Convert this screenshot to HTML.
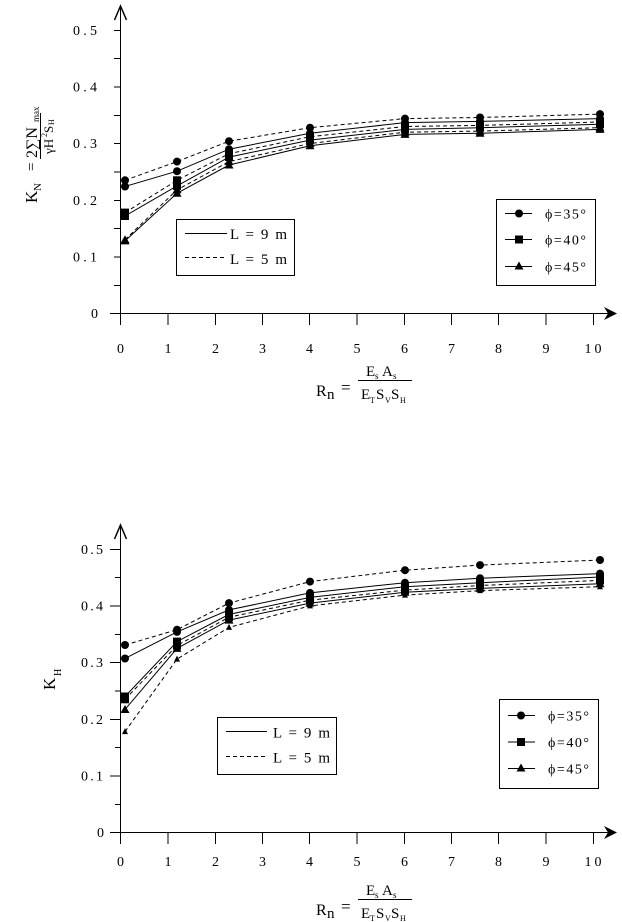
<!DOCTYPE html>
<html><head><meta charset="utf-8"><style>
html,body{margin:0;padding:0;background:#fff;}
svg{display:block;}
text{font-family:"Liberation Serif",serif;fill:#000;}
.tk{font-family:"Liberation Sans",sans-serif;font-size:14px;}
.lg{font-family:"Liberation Sans",sans-serif;font-size:14px;}
</style></head><body>
<svg width="622" height="922" viewBox="0 0 622 922" xmlns="http://www.w3.org/2000/svg">
<defs>
<g id="c"><circle cx="0" cy="0" r="4" fill="#000"/></g>
<g id="s"><rect x="-4" y="-4" width="8" height="8" fill="#000"/></g>
<g id="t"><path d="M-4.5,3.5 L0,-4.5 L4.5,3.5 Z" fill="#000"/></g>
<g id="ts"><path d="M-3,2.5 L0,-3.5 L3,2.5 Z" fill="#000"/></g>
</defs>

<!-- ============ TOP CHART ============ -->
<g stroke="#000" stroke-width="1" fill="none">
<line x1="120.5" y1="8" x2="120.5" y2="313.5"/>
<line x1="110" y1="313.5" x2="615" y2="313.5"/>
<path d="M114.5,20 L120.5,6 L126.5,20" stroke-width="1.5"/>
<line x1="114" y1="30.5" x2="120" y2="30.5"/>
<line x1="114" y1="58.5" x2="120" y2="58.5"/>
<line x1="114" y1="87" x2="120" y2="87"/>
<line x1="114" y1="115.5" x2="120" y2="115.5"/>
<line x1="114" y1="143.5" x2="120" y2="143.5"/>
<line x1="114" y1="172" x2="120" y2="172"/>
<line x1="114" y1="200.5" x2="120" y2="200.5"/>
<line x1="114" y1="228.5" x2="120" y2="228.5"/>
<line x1="114" y1="257" x2="120" y2="257"/>
<line x1="114" y1="285.5" x2="120" y2="285.5"/>
<line x1="120.5" y1="313" x2="120.5" y2="325"/>
<line x1="168" y1="313" x2="168" y2="325"/>
<line x1="215.5" y1="313" x2="215.5" y2="325"/>
<line x1="262.5" y1="313" x2="262.5" y2="325"/>
<line x1="309.5" y1="313" x2="309.5" y2="325"/>
<line x1="357" y1="313" x2="357" y2="325"/>
<line x1="404.5" y1="313" x2="404.5" y2="325"/>
<line x1="451.5" y1="313" x2="451.5" y2="325"/>
<line x1="498.5" y1="313" x2="498.5" y2="325"/>
<line x1="546" y1="313" x2="546" y2="325"/>
<line x1="593.5" y1="313" x2="593.5" y2="325"/>
</g>
<path d="M604,307 L617,313.5 L604,320 L608,313.5 Z" fill="#000"/>
<g class="tk" text-anchor="end">
<text x="97" y="35" textLength="24" lengthAdjust="spacing">0.5</text>
<text x="97" y="91.5" textLength="24" lengthAdjust="spacing">0.4</text>
<text x="97" y="148" textLength="24" lengthAdjust="spacing">0.3</text>
<text x="97" y="205" textLength="24" lengthAdjust="spacing">0.2</text>
<text x="97" y="261.5" textLength="24" lengthAdjust="spacing">0.1</text>
<text x="98" y="318">0</text>
</g>
<g class="tk" text-anchor="middle">
<text x="120.5" y="353">0</text>
<text x="168" y="353">1</text>
<text x="215.5" y="353">2</text>
<text x="262.5" y="353">3</text>
<text x="309.5" y="353">4</text>
<text x="357" y="353">5</text>
<text x="404.5" y="353">6</text>
<text x="451.5" y="353">7</text>
<text x="498.5" y="353">8</text>
<text x="546" y="353">9</text>
<text x="593" y="353" textLength="17" lengthAdjust="spacing">10</text>
</g>
<g>
<text x="316" y="396" font-size="16">R</text>
<text x="327" y="399" font-size="15">n</text>
<text x="341" y="393" font-size="17">=</text>
<line x1="358" y1="380.5" x2="412" y2="380.5" stroke="#000" stroke-width="1"/>
<text x="366" y="376" font-size="15">E</text><text x="375" y="379" font-size="9">s</text>
<text x="382" y="376" font-size="15">A</text><text x="393" y="379" font-size="9">s</text>
<text x="361" y="399" font-size="15">E</text><text x="370" y="403" font-size="8">T</text>
<text x="376" y="399" font-size="15">S</text><text x="385" y="403" font-size="8">V</text>
<text x="391" y="399" font-size="15">S</text><text x="400" y="403" font-size="8">H</text>
</g>
<g transform="translate(40,160) rotate(-90)">
<text x="-43" y="-3" font-size="17">K</text>
<text x="-31" y="1" font-size="11">N</text>
<text x="-11" y="-4" font-size="15">=</text>
<line x1="1" y1="0.5" x2="47" y2="0.5" stroke="#000" stroke-width="1"/>
<text x="2" y="-3" font-size="16">2∑N</text>
<text x="38" y="-1" font-size="9">max</text>
<text x="6" y="13" font-size="13">γH</text>
<text x="23" y="7" font-size="8">2</text>
<text x="27" y="13" font-size="13">S</text>
<text x="35" y="14" font-size="8">H</text>
</g>

<g fill="none" stroke="#000" stroke-width="1">
<polyline stroke-dasharray="4,3" points="125,180.3 177,161.6 229,141.2 310,127.7 405,118.6 480,117.5 600,114.1"/>
<polyline points="125,186.5 177,171.2 229,149.2 310,133.3 405,122.6 480,121.4 600,118.6"/>
<polyline stroke-dasharray="4,3" points="125,212.6 177,180.3 229,153.7 310,136.7 405,126.5 480,125.4 600,122"/>
<polyline points="125,216 177,185.9 229,157.1 310,140.1 405,129.4 480,127.7 600,124.3"/>
<polyline stroke-dasharray="4,3" points="125,239.7 177,189.9 229,161.6 310,143.5 405,132.2 480,131.1 600,127.7"/>
<polyline points="125,240.9 177,193.3 229,165 310,145.8 405,134.4 480,133.3 600,129.4"/>
</g>
<g>
<use href="#c" x="125" y="180.3"/><use href="#c" x="177" y="161.6"/><use href="#c" x="229" y="141.2"/><use href="#c" x="310" y="127.7"/><use href="#c" x="405" y="118.6"/><use href="#c" x="480" y="117.5"/><use href="#c" x="600" y="114.1"/>
<use href="#c" x="125" y="186.5"/><use href="#c" x="177" y="171.2"/><use href="#c" x="229" y="149.2"/><use href="#c" x="310" y="133.3"/><use href="#c" x="405" y="122.6"/><use href="#c" x="480" y="121.4"/><use href="#c" x="600" y="118.6"/>
<use href="#s" x="125" y="212.6"/><use href="#s" x="177" y="180.3"/><use href="#s" x="229" y="153.7"/><use href="#s" x="310" y="136.7"/><use href="#s" x="405" y="126.5"/><use href="#s" x="480" y="125.4"/><use href="#s" x="600" y="122"/>
<use href="#s" x="125" y="216"/><use href="#s" x="177" y="185.9"/><use href="#s" x="229" y="157.1"/><use href="#s" x="310" y="140.1"/><use href="#s" x="405" y="129.4"/><use href="#s" x="480" y="127.7"/><use href="#s" x="600" y="124.3"/>
<use href="#t" x="125" y="239.7"/><use href="#t" x="177" y="189.9"/><use href="#t" x="229" y="161.6"/><use href="#t" x="310" y="143.5"/><use href="#t" x="405" y="132.2"/><use href="#t" x="480" y="131.1"/><use href="#t" x="600" y="127.7"/>
<use href="#t" x="125" y="240.9"/><use href="#t" x="177" y="193.3"/><use href="#t" x="229" y="165"/><use href="#t" x="310" y="145.8"/><use href="#t" x="405" y="134.4"/><use href="#t" x="480" y="133.3"/><use href="#t" x="600" y="129.4"/>
</g>

<rect x="176.5" y="219.5" width="118" height="56" fill="#fff" stroke="#000" stroke-width="1"/>
<line x1="185" y1="233.5" x2="227" y2="233.5" stroke="#000"/>
<line x1="185" y1="257.5" x2="227" y2="257.5" stroke="#000" stroke-dasharray="4,3"/>
<text x="230" y="239" font-size="15" textLength="57" lengthAdjust="spacing">L = 9 m</text>
<text x="230" y="264" font-size="15" textLength="57" lengthAdjust="spacing">L = 5 m</text>

<rect x="496.5" y="199.5" width="99" height="86" fill="#fff" stroke="#000" stroke-width="1"/>
<line x1="505" y1="213.5" x2="532" y2="213.5" stroke="#000"/><use href="#c" x="519" y="213.5"/>
<line x1="505" y1="239.5" x2="532" y2="239.5" stroke="#000"/><use href="#s" x="519" y="239.5"/>
<line x1="505" y1="266.5" x2="532" y2="266.5" stroke="#000"/><use href="#t" x="519" y="266"/>
<g class="lg">
<text x="545" y="218.5" textLength="41" lengthAdjust="spacing">ϕ=35°</text>
<text x="545" y="244.5" textLength="41" lengthAdjust="spacing">ϕ=40°</text>
<text x="545" y="271.5" textLength="41" lengthAdjust="spacing">ϕ=45°</text>
</g>

<!-- ============ BOTTOM CHART ============ -->
<g stroke="#000" stroke-width="1" fill="none">
<line x1="120.5" y1="527" x2="120.5" y2="832.5"/>
<line x1="110" y1="832.5" x2="615" y2="832.5"/>
<path d="M114.5,539 L120.5,525 L126.5,539" stroke-width="1.5"/>
<line x1="110" y1="549.5" x2="120" y2="549.5"/>
<line x1="115" y1="577.5" x2="120" y2="577.5"/>
<line x1="110" y1="606" x2="120" y2="606"/>
<line x1="115" y1="634.5" x2="120" y2="634.5"/>
<line x1="110" y1="662.5" x2="120" y2="662.5"/>
<line x1="115" y1="691" x2="120" y2="691"/>
<line x1="110" y1="719.5" x2="120" y2="719.5"/>
<line x1="115" y1="747.5" x2="120" y2="747.5"/>
<line x1="110" y1="776" x2="120" y2="776"/>
<line x1="115" y1="804.5" x2="120" y2="804.5"/>
<line x1="120.5" y1="832" x2="120.5" y2="844"/>
<line x1="168" y1="832" x2="168" y2="844"/>
<line x1="215.5" y1="832" x2="215.5" y2="844"/>
<line x1="262.5" y1="832" x2="262.5" y2="844"/>
<line x1="309.5" y1="832" x2="309.5" y2="844"/>
<line x1="357" y1="832" x2="357" y2="844"/>
<line x1="404.5" y1="832" x2="404.5" y2="844"/>
<line x1="451.5" y1="832" x2="451.5" y2="844"/>
<line x1="498.5" y1="832" x2="498.5" y2="844"/>
<line x1="546" y1="832" x2="546" y2="844"/>
<line x1="593.5" y1="832" x2="593.5" y2="844"/>
</g>
<path d="M604,826 L617,832.5 L604,839 L608,832.5 Z" fill="#000"/>
<g class="tk" text-anchor="end">
<text x="103" y="554" textLength="22" lengthAdjust="spacing">0.5</text>
<text x="103" y="610.5" textLength="22" lengthAdjust="spacing">0.4</text>
<text x="103" y="667" textLength="22" lengthAdjust="spacing">0.3</text>
<text x="103" y="724" textLength="22" lengthAdjust="spacing">0.2</text>
<text x="103" y="780.5" textLength="22" lengthAdjust="spacing">0.1</text>
<text x="104" y="837">0</text>
</g>
<g class="tk" text-anchor="middle">
<text x="120.5" y="866">0</text>
<text x="168" y="866">1</text>
<text x="215.5" y="866">2</text>
<text x="262.5" y="866">3</text>
<text x="309.5" y="866">4</text>
<text x="357" y="866">5</text>
<text x="404.5" y="866">6</text>
<text x="451.5" y="866">7</text>
<text x="498.5" y="866">8</text>
<text x="546" y="866">9</text>
<text x="593" y="866" textLength="17" lengthAdjust="spacing">10</text>
</g>
<g>
<text x="316" y="915" font-size="16">R</text>
<text x="327" y="918" font-size="15">n</text>
<text x="341" y="912" font-size="17">=</text>
<line x1="358" y1="899.5" x2="412" y2="899.5" stroke="#000" stroke-width="1"/>
<text x="366" y="895" font-size="15">E</text><text x="375" y="898" font-size="9">s</text>
<text x="382" y="895" font-size="15">A</text><text x="393" y="898" font-size="9">s</text>
<text x="361" y="918" font-size="15">E</text><text x="370" y="921" font-size="8">T</text>
<text x="376" y="918" font-size="15">S</text><text x="385" y="921" font-size="8">V</text>
<text x="391" y="918" font-size="15">S</text><text x="400" y="921" font-size="8">H</text>
</g>
<g transform="translate(55,690) rotate(-90)">
<text x="0" y="0" font-size="17">K</text>
<text x="14" y="6" font-size="10">H</text>
</g>

<g fill="none" stroke="#000" stroke-width="1">
<polyline stroke-dasharray="4,3" points="125,645 177,629.7 229,603.1 310,581.6 405,570.2 480,565.1 600,560"/>
<polyline points="125,658.5 177,631.9 229,609.9 310,592.9 405,582.7 480,578.2 600,573.6"/>
<polyline points="125,696.5 177,641.6 229,614.4 310,597.4 405,586.7 480,582.7 600,577"/>
<polyline stroke-dasharray="4,3" points="125,699.3 177,645.5 229,617.2 310,600.2 405,590.1 480,585.5 600,580.4"/>
<polyline points="125,709.5 177,648.4 229,620.1 310,603.1 405,592.3 480,588.4 600,583.8"/>
<polyline stroke-dasharray="4,3" points="125,731.6 177,659.1 229,627.4 310,605.9 405,595.1 480,590.6 600,586.7"/>
</g>
<g>
<use href="#c" x="125" y="645"/><use href="#c" x="177" y="629.7"/><use href="#c" x="229" y="603.1"/><use href="#c" x="310" y="581.6"/><use href="#c" x="405" y="570.2"/><use href="#c" x="480" y="565.1"/><use href="#c" x="600" y="560"/>
<use href="#c" x="125" y="658.5"/><use href="#c" x="177" y="631.9"/><use href="#c" x="229" y="609.9"/><use href="#c" x="310" y="592.9"/><use href="#c" x="405" y="582.7"/><use href="#c" x="480" y="578.2"/><use href="#c" x="600" y="573.6"/>
<use href="#s" x="125" y="696.5"/><use href="#s" x="177" y="641.6"/><use href="#s" x="229" y="614.4"/><use href="#s" x="310" y="597.4"/><use href="#s" x="405" y="586.7"/><use href="#s" x="480" y="582.7"/><use href="#s" x="600" y="577"/>
<use href="#s" x="125" y="699.3"/><use href="#s" x="177" y="645.5"/><use href="#s" x="229" y="617.2"/><use href="#s" x="310" y="600.2"/><use href="#s" x="405" y="590.1"/><use href="#s" x="480" y="585.5"/><use href="#s" x="600" y="580.4"/>
<use href="#t" x="125" y="709.5"/><use href="#t" x="177" y="648.4"/><use href="#t" x="229" y="620.1"/><use href="#t" x="310" y="603.1"/><use href="#t" x="405" y="592.3"/><use href="#t" x="480" y="588.4"/><use href="#t" x="600" y="583.8"/>
<use href="#ts" x="125" y="731.6"/><use href="#ts" x="177" y="659.1"/><use href="#ts" x="229" y="627.4"/><use href="#ts" x="310" y="605.9"/><use href="#ts" x="405" y="595.1"/><use href="#ts" x="480" y="590.6"/><use href="#ts" x="600" y="586.7"/>
</g>

<rect x="217.5" y="717.5" width="119" height="57" fill="#fff" stroke="#000" stroke-width="1"/>
<line x1="226" y1="731.5" x2="267" y2="731.5" stroke="#000"/>
<line x1="226" y1="756.5" x2="267" y2="756.5" stroke="#000" stroke-dasharray="4,3"/>
<text x="273" y="737.5" font-size="15" textLength="57" lengthAdjust="spacing">L = 9 m</text>
<text x="273" y="762.5" font-size="15" textLength="57" lengthAdjust="spacing">L = 5 m</text>

<rect x="499.5" y="699.5" width="99" height="89" fill="#fff" stroke="#000" stroke-width="1"/>
<line x1="508" y1="715.5" x2="535" y2="715.5" stroke="#000"/><use href="#c" x="521" y="715.5"/>
<line x1="508" y1="742" x2="535" y2="742" stroke="#000"/><use href="#s" x="521" y="742"/>
<line x1="508" y1="768.5" x2="535" y2="768.5" stroke="#000"/><use href="#t" x="521" y="768"/>
<g class="lg">
<text x="548" y="720.5" textLength="41" lengthAdjust="spacing">ϕ=35°</text>
<text x="548" y="747" textLength="41" lengthAdjust="spacing">ϕ=40°</text>
<text x="548" y="773.5" textLength="41" lengthAdjust="spacing">ϕ=45°</text>
</g>
</svg>
</body></html>
